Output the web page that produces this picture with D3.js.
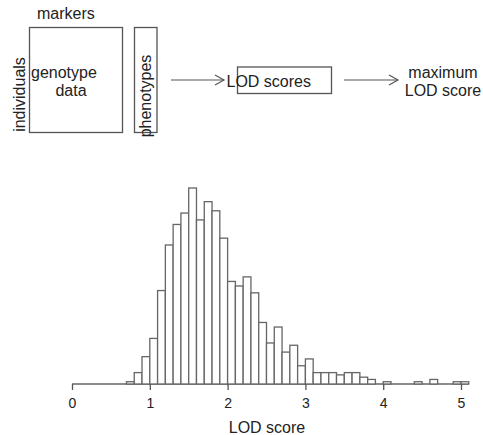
<!DOCTYPE html>
<html>
<head>
<meta charset="utf-8">
<script src="https://cdn.jsdelivr.net/npm/d3@7"></script>
<style>
  body { margin: 0; background: #fff; }
  text { font-family: "Liberation Sans", Arial, sans-serif; fill: #222; }
</style>
</head>
<body>
<script>
const width = 483;
const height = 435;

// histogram of max LOD scores, bin width 0.1, bins start at 0.0 ... 5.0
const binWidth = 0.1;
const binStarts = d3.range(0, 51).map((i) => i / 10);
const counts = [
  0, 0, 0, 0, 0, 0, 0, 1, 5, 12,
  20, 41, 61, 70, 75, 86, 72, 80, 76, 64,
  45, 43, 47, 40, 27, 18, 25, 14, 17, 8,
  11, 5, 5, 5, 4, 5, 5, 3, 2, 0,
  1, 0, 0, 0, 1, 0, 2, 0, 0, 1,
  1
];
const xTicks = [0, 1, 2, 3, 4, 5];

let data = binStarts.map((b, i) => ({ x0: b, x1: b + binWidth, count: counts[i] }));

let svg = d3
  .select("body")
  .append("svg")
  .attr("width", width)
  .attr("height", height);

// ---- schematic at the top ----
let diag = svg.append("g").attr("id", "diagram");
const ink = "#555";

function box(x, y, w, h) {
  diag.append("rect")
    .attr("x", x).attr("y", y).attr("width", w).attr("height", h)
    .attr("fill", "none").attr("stroke", ink).attr("stroke-width", 1.3);
}
function arrow(x1, x2, y) {
  diag.append("line")
    .attr("x1", x1).attr("x2", x2).attr("y1", y).attr("y2", y)
    .attr("stroke", ink).attr("stroke-width", 1.2);
  diag.append("path")
    .attr("d", `M${x2 - 9},${y - 5}L${x2},${y}L${x2 - 9},${y + 5}`)
    .attr("fill", "none").attr("stroke", ink).attr("stroke-width", 1.2);
}
function label(txt, x, y, anchor, rotate) {
  let t = diag.append("text")
    .attr("font-size", 16)
    .attr("text-anchor", anchor || "start")
    .attr("dominant-baseline", "central")
    .text(txt);
  if (rotate) t.attr("transform", `translate(${x},${y}) rotate(-90)`);
  else t.attr("x", x).attr("y", y);
}

box(29.5, 27.5, 93, 105);
box(134.5, 27.5, 22.5, 105);
box(237.5, 67, 94, 26.5);
arrow(171, 224, 80);
arrow(344, 398, 80);

label("markers", 37, 13);
label("individuals", 19, 94.5, "middle", true);
label("genotype", 31, 72);
label("data", 71, 90, "middle");
label("phenotypes", 145.5, 96, "middle", true);
label("LOD scores", 226.5, 81);
label("maximum", 443, 72, "middle");
label("LOD score", 443, 90, "middle");

// ---- histogram ----
let margin = { left: 72, right: 22, baseline: 384, top: 188 };

let xScale = d3
  .scaleLinear()
  .domain([0, 5])
  .range([margin.left, 461]);

let yScale = d3
  .scaleLinear()
  .domain([0, d3.max(counts)])
  .range([margin.baseline, margin.top]);

let hist = svg.append("g").attr("id", "hist");

// empty bins collapse to a line along the base
hist
  .append("line")
  .attr("x1", xScale(data[0].x0))
  .attr("x2", xScale(data[data.length - 1].x1))
  .attr("y1", yScale(0))
  .attr("y2", yScale(0))
  .attr("stroke", "#666")
  .attr("stroke-width", 1.3);

hist
  .selectAll("rect")
  .data(data.filter((d) => d.count > 0))
  .join("rect")
  .attr("x", (d) => xScale(d.x0))
  .attr("y", (d) => yScale(d.count))
  .attr("width", (d) => xScale(d.x1) - xScale(d.x0))
  .attr("height", (d) => yScale(0) - yScale(d.count))
  .attr("fill", "#fff")
  .attr("stroke", "#666")
  .attr("stroke-width", 1.3);

let bottomAxis = d3
  .axisBottom(xScale)
  .tickValues(xTicks)
  .tickFormat(d3.format("d"))
  .tickSize(6)
  .tickPadding(8);

let axisG = hist
  .append("g")
  .attr("transform", `translate(0, ${margin.baseline})`)
  .call(bottomAxis);

axisG.select(".domain").remove();
axisG.selectAll(".tick line").attr("stroke", "#555").attr("stroke-width", 1.3);
axisG
  .selectAll(".tick text")
  .attr("font-family", '"Liberation Sans", Arial, sans-serif')
  .attr("font-size", 14)
  .attr("fill", "#222");

hist
  .append("text")
  .attr("x", (xScale(0) + xScale(5)) / 2 + 0.5)
  .attr("y", 427)
  .attr("text-anchor", "middle")
  .attr("dominant-baseline", "central")
  .attr("font-size", 16)
  .text("LOD score");
</script>
</body>
</html>
